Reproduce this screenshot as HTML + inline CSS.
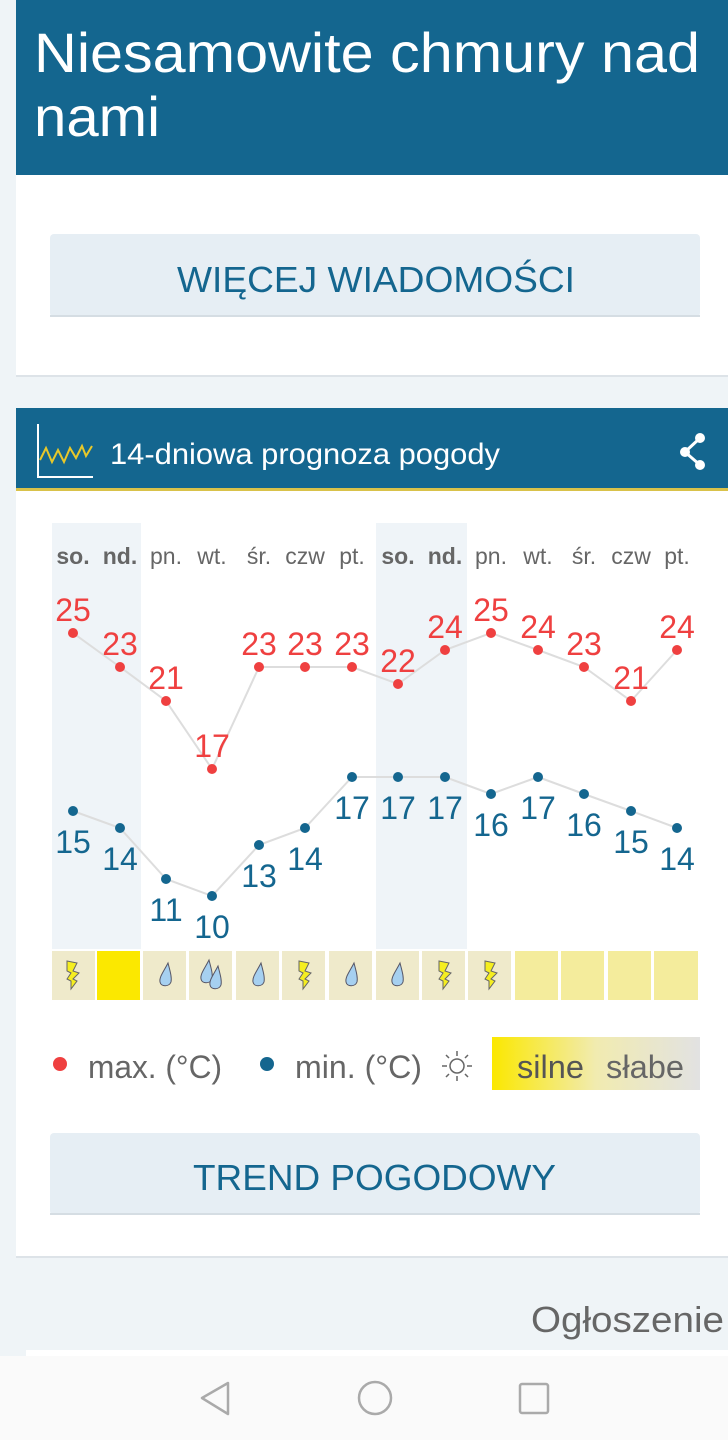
<!DOCTYPE html>
<html><head><meta charset="utf-8"><style>
html,body{margin:0;padding:0;background:#eff4f7;}
svg{display:block;font-family:"Liberation Sans",sans-serif;}
</style></head><body>
<svg width="728" height="1440" viewBox="0 0 728 1440" xmlns="http://www.w3.org/2000/svg">
<rect width="728" height="1440" fill="#eff4f7"/>
<rect x="16" y="0" width="712" height="375" fill="#fff"/>
<rect x="16" y="375" width="712" height="2" fill="#dde3e8"/>
<rect x="16" y="0" width="712" height="175" fill="#14668f"/>
<text x="34" y="72" font-size="56" fill="#fff" textLength="666" lengthAdjust="spacingAndGlyphs">Niesamowite chmury nad</text>
<text x="34" y="136" font-size="56" fill="#fff" textLength="126" lengthAdjust="spacingAndGlyphs">nami</text>
<rect x="50" y="234" width="650" height="83" rx="4" fill="#e6eef4"/>
<rect x="50" y="315" width="650" height="2" fill="#d5dde3"/>
<text x="177" y="292" font-size="36" fill="#14668f" textLength="398" lengthAdjust="spacingAndGlyphs">WIĘCEJ WIADOMOŚCI</text>
<rect x="16" y="408" width="712" height="848" fill="#fff"/>
<rect x="16" y="1256" width="712" height="2" fill="#dde3e8"/>
<rect x="16" y="408" width="712" height="80" fill="#14668f"/>
<rect x="16" y="488" width="712" height="3" fill="#d9c24a"/>
<path d="M38 424 V477 H93" stroke="#fff" stroke-width="2" fill="none"/>
<path d="M40 460 L46 448 L52 462 L58 450 L64 462 L70 448 L76 458 L82 446 L86 456 L92 446" stroke="#e8c82a" stroke-width="2" fill="none"/>
<text x="110" y="464" font-size="30" fill="#fff" textLength="390" lengthAdjust="spacingAndGlyphs">14-dniowa prognoza pogody</text>
<g fill="#fff"><circle cx="700" cy="438" r="5"/><circle cx="685" cy="452" r="5"/><circle cx="700" cy="465" r="5"/></g>
<path d="M700 438 L685 452 L700 465" stroke="#fff" stroke-width="3" fill="none"/>
<rect x="52" y="523" width="89" height="426" fill="#eff4f8"/>
<rect x="376" y="523" width="91" height="426" fill="#eff4f8"/>
<g font-size="23" fill="#666" text-anchor="middle">
<text x="73" y="564" font-weight="bold">so.</text><text x="120" y="564" font-weight="bold">nd.</text>
<text x="166" y="564">pn.</text><text x="212" y="564">wt.</text><text x="259" y="564">śr.</text><text x="305" y="564">czw</text><text x="352" y="564">pt.</text>
<text x="398" y="564" font-weight="bold">so.</text><text x="445" y="564" font-weight="bold">nd.</text>
<text x="491" y="564">pn.</text><text x="538" y="564">wt.</text><text x="584" y="564">śr.</text><text x="631" y="564">czw</text><text x="677" y="564">pt.</text>
</g>
<polyline fill="none" stroke="#ddd" stroke-width="2" points="73,633 120,667 166,701 212,769 259,667 305,667 352,667 398,684 445,650 491,633 538,650 584,667 631,701 677,650"/>
<polyline fill="none" stroke="#ddd" stroke-width="2" points="73,811 120,828 166,879 212,896 259,845 305,828 352,777 398,777 445,777 491,794 538,777 584,794 631,811 677,828"/>
<g fill="#ef4040">
<circle cx="73" cy="633" r="5"/><circle cx="120" cy="667" r="5"/><circle cx="166" cy="701" r="5"/><circle cx="212" cy="769" r="5"/><circle cx="259" cy="667" r="5"/><circle cx="305" cy="667" r="5"/><circle cx="352" cy="667" r="5"/><circle cx="398" cy="684" r="5"/><circle cx="445" cy="650" r="5"/><circle cx="491" cy="633" r="5"/><circle cx="538" cy="650" r="5"/><circle cx="584" cy="667" r="5"/><circle cx="631" cy="701" r="5"/><circle cx="677" cy="650" r="5"/>
</g>
<g fill="#ef4040" font-size="32" text-anchor="middle">
<text x="73" y="621">25</text><text x="120" y="655">23</text><text x="166" y="689">21</text><text x="212" y="757">17</text><text x="259" y="655">23</text><text x="305" y="655">23</text><text x="352" y="655">23</text><text x="398" y="672">22</text><text x="445" y="638">24</text><text x="491" y="621">25</text><text x="538" y="638">24</text><text x="584" y="655">23</text><text x="631" y="689">21</text><text x="677" y="638">24</text>
</g>
<g fill="#14668f">
<circle cx="73" cy="811" r="5"/><circle cx="120" cy="828" r="5"/><circle cx="166" cy="879" r="5"/><circle cx="212" cy="896" r="5"/><circle cx="259" cy="845" r="5"/><circle cx="305" cy="828" r="5"/><circle cx="352" cy="777" r="5"/><circle cx="398" cy="777" r="5"/><circle cx="445" cy="777" r="5"/><circle cx="491" cy="794" r="5"/><circle cx="538" cy="777" r="5"/><circle cx="584" cy="794" r="5"/><circle cx="631" cy="811" r="5"/><circle cx="677" cy="828" r="5"/>
</g>
<g fill="#14668f" font-size="32" text-anchor="middle">
<text x="73" y="853">15</text><text x="120" y="870">14</text><text x="166" y="921">11</text><text x="212" y="938">10</text><text x="259" y="887">13</text><text x="305" y="870">14</text><text x="352" y="819">17</text><text x="398" y="819">17</text><text x="445" y="819">17</text><text x="491" y="836">16</text><text x="538" y="819">17</text><text x="584" y="836">16</text><text x="631" y="853">15</text><text x="677" y="870">14</text>
</g>
<g>
<rect x="52" y="951" width="43" height="49" fill="#efeacb"/>
<rect x="97" y="951" width="43" height="49" fill="#fbe800"/>
<rect x="143" y="951" width="43" height="49" fill="#efeacb"/>
<rect x="189" y="951" width="43" height="49" fill="#efeacb"/>
<rect x="236" y="951" width="43" height="49" fill="#efeacb"/>
<rect x="282" y="951" width="43" height="49" fill="#efeacb"/>
<rect x="329" y="951" width="43" height="49" fill="#efeacb"/>
<rect x="376" y="951" width="43" height="49" fill="#efeacb"/>
<rect x="422" y="951" width="43" height="49" fill="#efeacb"/>
<rect x="468" y="951" width="43" height="49" fill="#efeacb"/>
<rect x="515" y="951" width="43" height="49" fill="#f4ec9c"/>
<rect x="561" y="951" width="43" height="49" fill="#f4ec9c"/>
<rect x="608" y="951" width="43" height="49" fill="#f4ec9c"/>
<rect x="654" y="951" width="44" height="49" fill="#f4ec9c"/>
</g>
<defs>
<path id="bolt" d="M-6,-14 L4,-12 L0,-4 L6,-2 L0,4 L4,6 L-2,14 L-2,6 L-6,4 L-2,-2 L-6,-4 Z" fill="#f5ee20" stroke="#666" stroke-width="1"/>
<path id="drop" d="M2,-12 C-2,-4 -7,2 -6,7 C-5,12 3,12 5,7 C6,2 4,-4 2,-12 Z" fill="#a6d0f0" stroke="#556" stroke-width="1"/>
</defs>
<use href="#bolt" x="73" y="975"/>
<use href="#drop" x="166" y="975"/>
<use href="#drop" x="207" y="972"/><use href="#drop" x="216" y="978"/>
<use href="#drop" x="259" y="975"/>
<use href="#bolt" x="305" y="975"/>
<use href="#drop" x="352" y="975"/>
<use href="#drop" x="398" y="975"/>
<use href="#bolt" x="445" y="975"/>
<use href="#bolt" x="491" y="975"/>
<circle cx="60" cy="1064" r="7" fill="#ef4040"/>
<text x="88" y="1078" font-size="32" fill="#666" textLength="134" lengthAdjust="spacingAndGlyphs">max. (°C)</text>
<circle cx="267" cy="1064" r="7" fill="#14668f"/>
<text x="295" y="1078" font-size="32" fill="#666" textLength="127" lengthAdjust="spacingAndGlyphs">min. (°C)</text>
<g stroke="#666" stroke-width="1.5" fill="none"><circle cx="457" cy="1066" r="7"/>
<path d="M457 1051v5M457 1076v5M442 1066h5M467 1066h5M446 1055l3 3M465 1074l3 3M446 1077l3-3M465 1058l3-3"/></g>
<defs><linearGradient id="g" x1="0" x2="1"><stop offset="0" stop-color="#fbe800"/><stop offset="0.5" stop-color="#f1ebb0"/><stop offset="1" stop-color="#e2e2e2"/></linearGradient></defs>
<rect x="492" y="1037" width="208" height="53" fill="url(#g)"/>
<text x="517" y="1078" font-size="32" fill="#555" textLength="67" lengthAdjust="spacingAndGlyphs">silne</text>
<text x="606" y="1078" font-size="32" fill="#666" textLength="78" lengthAdjust="spacingAndGlyphs">słabe</text>
<rect x="50" y="1133" width="650" height="82" rx="4" fill="#e6eef4"/>
<rect x="50" y="1213" width="650" height="2" fill="#d5dde3"/>
<text x="193" y="1190" font-size="36" fill="#14668f" textLength="363" lengthAdjust="spacingAndGlyphs">TREND POGODOWY</text>
<text x="531" y="1332" font-size="36" fill="#666" textLength="193" lengthAdjust="spacingAndGlyphs">Ogłoszenie</text>
<rect x="26" y="1350" width="702" height="6" fill="#fff"/>
<rect x="0" y="1356" width="728" height="84" fill="#fafafa"/>
<g stroke="#aaa" stroke-width="2.5" fill="none">
<path d="M228 1383 L202 1398 L228 1414 Z" stroke-linejoin="round"/>
<ellipse cx="375" cy="1398" rx="16" ry="16"/>
<rect x="520" y="1384" width="28" height="29" rx="2"/>
</g>
</svg>
</body></html>
